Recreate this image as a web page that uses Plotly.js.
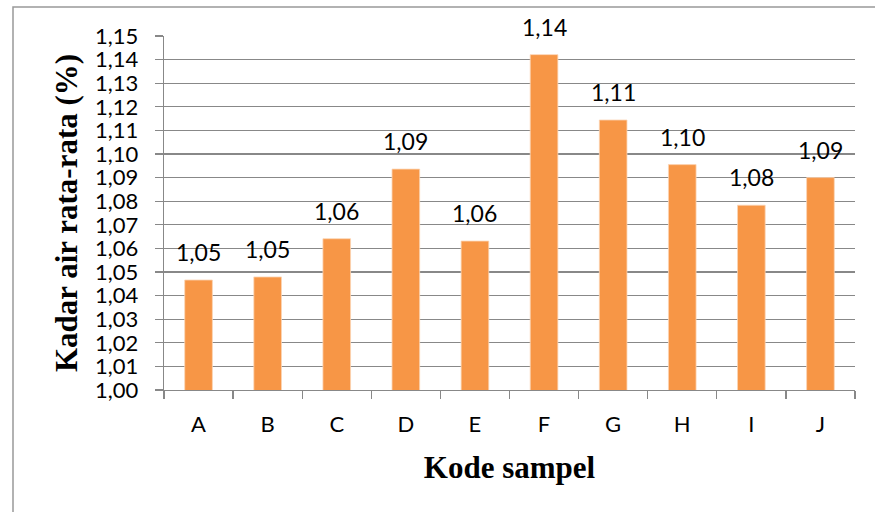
<!DOCTYPE html>
<html>
<head>
<meta charset="utf-8">
<script src="https://cdn.plot.ly/plotly-3.0.1.min.js"></script>
<style>html,body{margin:0;padding:0;background:#fff;}#chart{width:875px;height:512px;}</style>
</head>
<body>
<div id="chart"></div>
<script>
const categories = ['A','B','C','D','E','F','G','H','I','J'];
const values = [1.0466, 1.0479, 1.0641, 1.0936, 1.0631, 1.1421, 1.1144, 1.0955, 1.0783, 1.0900];
const yTickValues = [1.00,1.01,1.02,1.03,1.04,1.05,1.06,1.07,1.08,1.09,1.10,1.11,1.12,1.13,1.14,1.15];

const fmt = v => v.toFixed(2).replace('.', ',');
const sans = 'Lato, "Open Sans", sans-serif';
const serif = '"Liberation Serif", "Times New Roman", serif';

const trace = {
  type: 'bar',
  x: categories,
  y: values,
  marker: {color: '#F79646', line: {color: '#FBD4B4', width: 0.8}},
  width: 0.4,
  hoverinfo: 'skip'
};

const annotations = categories.map((c, i) => ({
  x: c, y: values[i], xref: 'x', yref: 'y',
  text: fmt(values[i]),
  showarrow: false, yanchor: 'bottom', yshift: 12,
  font: {family: sans, size: 23, color: '#000'}
}));

const layout = {
  width: 875, height: 512,
  paper_bgcolor: '#fff', plot_bgcolor: '#fff',
  margin: {l: 164, r: 20, t: 36, b: 122},
  separators: ',.',
  showlegend: false,
  font: {family: sans, size: 22, color: '#000'},
  xaxis: {
    type: 'category',
    showgrid: false,
    showline: true, linecolor: '#888', linewidth: 1.3,
    ticks: 'outside', tickson: 'boundaries', ticklen: 8, tickcolor: '#888', tickwidth: 1.3,
    ticklabelstandoff: 14,
    tickfont: {family: sans, size: 22, color: '#000'},
    title: {text: 'Kode sampel', standoff: 20,
      font: {family: serif, size: 31, color: '#000', weight: 'bold'}},
    automargin: false,
    fixedrange: true
  },
  yaxis: {
    range: [1.0, 1.15],
    tickmode: 'array', tickvals: yTickValues, ticktext: yTickValues.map(fmt),
    showgrid: true, gridcolor: '#888', gridwidth: 1.3,
    showline: true, linecolor: '#888', linewidth: 1.3,
    zeroline: false,
    ticks: 'outside', ticklen: 8, tickcolor: '#888', tickwidth: 1.3,
    ticklabelstandoff: 12,
    tickfont: {family: sans, size: 22, color: '#000'},
    title: {text: 'Kadar air rata-rata (%)', standoff: 8,
      font: {family: serif, size: 31, color: '#000', weight: 'bold'}},
    automargin: false,
    fixedrange: true
  },
  annotations: annotations,
  shapes: [{
    type: 'rect', xref: 'paper', yref: 'paper', layer: 'below',
    x0: (13 - 164) / 691, x1: 1.2, y0: -1, y1: (512 - 7 - 122) / 354,
    line: {color: '#999', width: 1.5}, fillcolor: 'rgba(0,0,0,0)'
  }]
};

Plotly.newPlot('chart', [trace], layout, {displayModeBar: false, staticPlot: true});
</script>
</body>
</html>
